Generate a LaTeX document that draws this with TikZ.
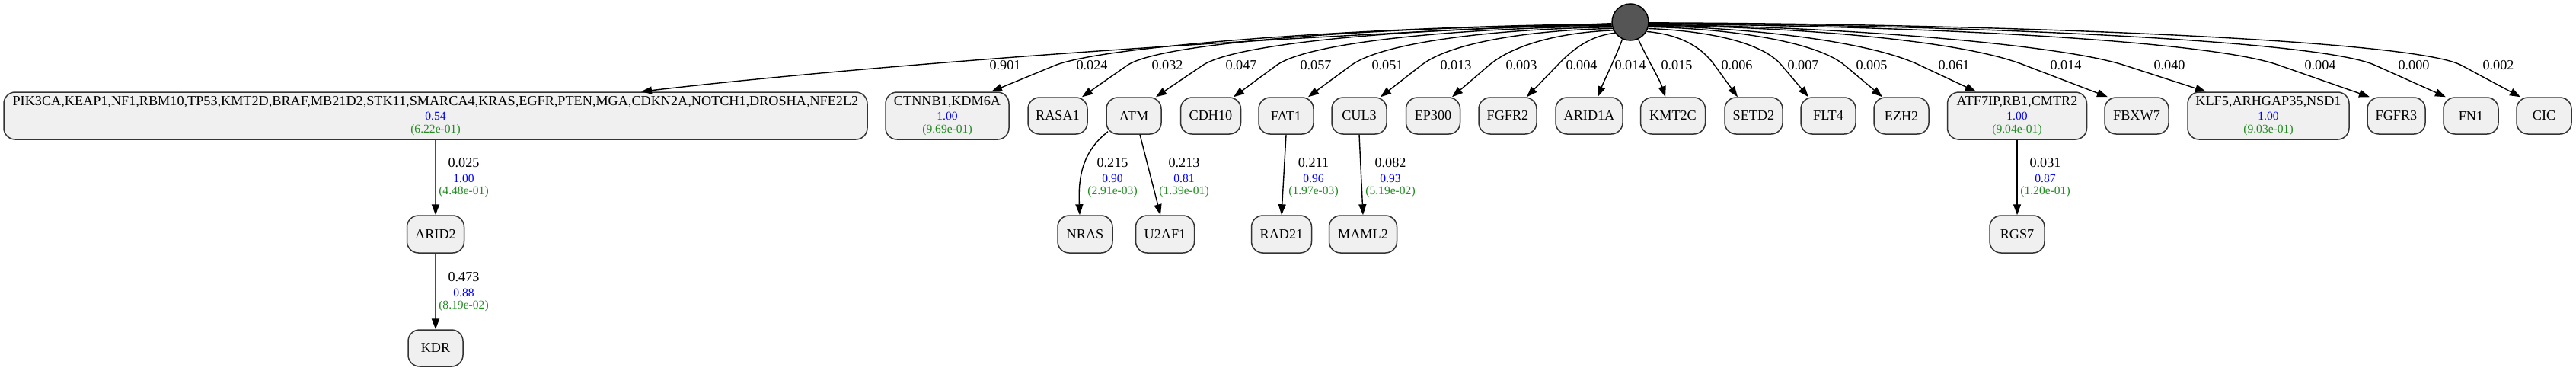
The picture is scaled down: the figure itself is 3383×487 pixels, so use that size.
\documentclass[tikz,border=0pt]{standalone}
\usepackage{fontspec}
\setmainfont{Liberation Serif}
\usetikzlibrary{arrows.meta,calc}
\definecolor{nodefill}{HTML}{F0F0F0}
\definecolor{nodeline}{HTML}{333333}
\definecolor{rootfill}{HTML}{555555}
\definecolor{pgreen}{HTML}{228B22}
\definecolor{pblue}{HTML}{0000FF}
\definecolor{heavy}{HTML}{4D4D4D}
\tikzset{
  gene/.style={draw=nodeline, fill=nodefill, line width=1.5pt, rounded corners=15pt,
    minimum height=48pt, inner sep=0pt, font=\fontsize{18.2}{19}\selectfont},
  multi/.style={gene, minimum height=62pt, align=center, font=\fontsize{15.6}{17}\selectfont},
  edge/.style={line width=1.4pt, draw=black, -{Triangle[length=14pt,width=10pt]}},
  heavyedge/.style={line width=2.2pt, draw=heavy, -{Triangle[length=14pt,width=10pt,fill=black,color=black]}},
  elab/.style={font=\fontsize{18.2}{19}\selectfont, inner sep=0pt, text=black},
  elabc/.style={align=center, font=\fontsize{15.6}{16}\selectfont, inner sep=0pt},
}
\newcommand{\blk}[1]{{\fontsize{18.2}{17}\selectfont #1}}
\begin{document}
\begin{tikzpicture}[x=1pt,y=-1pt]
\useasboundingbox (0,0) rectangle (3383,487);
% root
\node[circle, draw=black, fill=rootfill, line width=1.5pt, minimum size=48pt, inner sep=0pt] (root) at (2141,29) {};
% row 1
\node[multi, minimum width=1134pt] (big) at (572,152) {\blk{PIK3CA,KEAP1,NF1,RBM10,TP53,KMT2D,BRAF,MB21D2,STK11,SMARCA4,KRAS,EGFR,PTEN,MGA,CDKN2A,NOTCH1,DROSHA,NFE2L2}\\[2pt]{\color{pblue}0.54}\\{\color{pgreen}(6.22e-01)}};
\node[multi, minimum width=162pt] (ctn) at (1244,152) {\blk{CTNNB1,KDM6A}\\[2pt]{\color{pblue}1.00}\\{\color{pgreen}(9.69e-01)}};
\node[gene, minimum width=78pt] (rasa1) at (1389,152) {RASA1};
\node[gene, minimum width=72pt] (atm) at (1489,152) {ATM};
\node[gene, minimum width=79pt] (cdh10) at (1590,152) {CDH10};
\node[gene, minimum width=72pt] (fat1) at (1689,152) {FAT1};
\node[gene, minimum width=72pt] (cul3) at (1785,152) {CUL3};
\node[gene, minimum width=71pt] (ep300) at (1882,152) {EP300};
\node[gene, minimum width=76pt] (fgfr2) at (1980,152) {FGFR2};
\node[gene, minimum width=88pt] (arid1a) at (2087,152) {ARID1A};
\node[gene, minimum width=85pt] (kmt2c) at (2197,152) {KMT2C};
\node[gene, minimum width=76pt] (setd2) at (2303,152) {SETD2};
\node[gene, minimum width=72pt] (flt4) at (2401,152) {FLT4};
\node[gene, minimum width=72pt] (ezh2) at (2497,152) {EZH2};
\node[multi, minimum width=183pt] (atf) at (2649,152) {\blk{ATF7IP,RB1,CMTR2}\\[2pt]{\color{pblue}1.00}\\{\color{pgreen}(9.04e-01)}};
\node[gene, minimum width=84pt] (fbxw7) at (2806,152) {FBXW7};
\node[multi, minimum width=212pt] (klf5) at (2979,152) {\blk{KLF5,ARHGAP35,NSD1}\\[2pt]{\color{pblue}1.00}\\{\color{pgreen}(9.03e-01)}};
\node[gene, minimum width=76pt] (fgfr3) at (3147,152) {FGFR3};
\node[gene, minimum width=72pt] (fn1) at (3245,152) {FN1};
\node[gene, minimum width=72pt] (cic) at (3341,152) {CIC};
% row 2
\node[gene, minimum width=75pt, minimum height=49pt] (arid2) at (572,307.5) {ARID2};
\node[gene, minimum width=72pt, minimum height=49pt] (nras) at (1425,307.5) {NRAS};
\node[gene, minimum width=77pt, minimum height=49pt] (u2af1) at (1530,307.5) {U2AF1};
\node[gene, minimum width=79pt, minimum height=49pt] (rad21) at (1683,307.5) {RAD21};
\node[gene, minimum width=89pt, minimum height=49pt] (maml2) at (1790,307.5) {MAML2};
\node[gene, minimum width=72pt, minimum height=49pt] (rgs7) at (2649,307.5) {RGS7};
% row 3
\node[gene, minimum width=72pt, minimum height=48pt] (kdr) at (572,457) {KDR};

% edges from root (left side)
\draw[edge] (root.184) .. controls (1600,50) and (1100,90) .. ([xshift=270pt]big.north) node[elab, at={(1320,86)}] (l01) {0.901};
\draw[edge] (root.186) .. controls (1817,34) and (1451,59) .. (1385,86) -- ([xshift=58pt]ctn.north) node[elab, at={(1434,86)}] (l02) {0.024};
\draw[edge] (root.188) .. controls (1852,34) and (1527,53) .. (1480,86) -- ([xshift=32pt]rasa1.north) node[elab, at={(1533,86)}] (l03) {0.032};
\draw[edge] (root.190) .. controls (1897,35) and (1628,53) .. (1579,86) -- ([xshift=29pt]atm.north) node[elab, at={(1630,86)}] (l04) {0.047};
\draw[edge] (root.193) .. controls (1939,36) and (1721,53) .. (1676,86) -- ([xshift=30pt]cdh10.north) node[elab, at={(1728,86)}] (l05) {0.057};
\draw[edge] (root.196) .. controls (1983,37) and (1819,53) .. (1774,86) -- ([xshift=29pt]fat1.north) node[elab, at={(1822,86)}] (l06) {0.051};
\draw[edge] (root.200) .. controls (2024,39) and (1908,53) .. (1866,86) -- ([xshift=28pt]cul3.north) node[elab, at={(1912,86)}] (l07) {0.013};
\draw[edge] (root.206) .. controls (2062,42) and (1993,54) .. (1955,86) -- ([xshift=25pt]ep300.north) node[elab, at={(1998,86)}] (l08) {0.003};
\draw[edge] (root.215) .. controls (2101,46) and (2077,52) .. (2045,86) -- ([xshift=25pt]fgfr2.north) node[elab, at={(2077,86)}] (l09) {0.004};
\draw[edge] (root.245) .. controls (2122,75) and (2107,105) .. ([xshift=11pt]arid1a.north) node[elab, at={(2141,86)}] (l10) {0.014};
% edges from root (right side)
\draw[edge] (root.295) .. controls (2162,75) and (2180,105) .. ([xshift=-10pt]kmt2c.north) node[elab, at={(2202,86)}] (l11) {0.015};
\draw[edge] (root.330) .. controls (2190,44) and (2228,52) .. (2252,86) -- ([xshift=-21pt]setd2.north) node[elab, at={(2281,86)}] (l12) {0.006};
\draw[edge] (root.340) .. controls (2230,40) and (2312,52) .. (2340,86) -- ([xshift=-26pt]flt4.north) node[elab, at={(2368,86)}] (l13) {0.007};
\draw[edge] (root.345) .. controls (2263,37) and (2384,53) .. (2423,86) -- ([xshift=-25pt]ezh2.north) node[elab, at={(2458,86)}] (l14) {0.005};
\draw[edge] (root.348) .. controls (2296,36) and (2456,54) .. (2522,86) -- ([xshift=-54pt]atf.north) node[elab, at={(2566,86)}] (l15) {0.061};
\draw[edge] (root.350) .. controls (2350,35) and (2576,52) .. (2660,86) -- ([xshift=-38pt]fbxw7.north) node[elab, at={(2713,86)}] (l16) {0.014};
\draw[edge] (root.352) .. controls (2408,34) and (2706,58) .. (2791,86) -- ([xshift=-82pt]klf5.north) node[elab, at={(2849,86)}] (l17) {0.040};
\draw[edge] (root.354) .. controls (2496,33) and (2901,52) .. (2994,86) -- ([xshift=-35pt]fgfr3.north) node[elab, at={(3047,86)}] (l18) {0.004};
\draw[edge] (root.356) .. controls (2562,32) and (3048,52) .. (3120,86) -- ([xshift=-33pt]fn1.north) node[elab, at={(3170,86)}] (l19) {0.000};
\draw[edge] (root.358) .. controls (2619,31) and (3173,52) .. (3233,86) -- ([xshift=-31pt]cic.north) node[elab, at={(3281,86)}] (l20) {0.002};

% lower edges
\draw[heavyedge] (big.south) -- (arid2.north) node[elabc, at={(609,233)}] (l21) {\blk{0.025}\\[4pt]{\color{pblue}1.00}\\{\color{pgreen}(4.48e-01)}};
\draw[heavyedge] (arid2.south) -- (kdr.north) node[elabc, at={(609,383)}] (l22) {\blk{0.473}\\[4pt]{\color{pblue}0.88}\\{\color{pgreen}(8.19e-02)}};
\draw[edge] ([xshift=-34pt,yshift=4pt]atm.south) .. controls (1420,200) and (1416,235) .. ([xshift=-7pt]nras.north) node[elabc, at={(1461,233)}] (l23) {\blk{0.215}\\[4pt]{\color{pblue}0.90}\\{\color{pgreen}(2.91e-03)}};
\draw[edge] ([xshift=8pt]atm.south) -- ([xshift=-6pt]u2af1.north) node[elabc, at={(1555,233)}] (l24) {\blk{0.213}\\[4pt]{\color{pblue}0.81}\\{\color{pgreen}(1.39e-01)}};
\draw[edge] (fat1.south) -- (rad21.north) node[elabc, at={(1725,233)}] (l25) {\blk{0.211}\\[4pt]{\color{pblue}0.96}\\{\color{pgreen}(1.97e-03)}};
\draw[edge] (cul3.south) -- (maml2.north) node[elabc, at={(1826,233)}] (l26) {\blk{0.082}\\[4pt]{\color{pblue}0.93}\\{\color{pgreen}(5.19e-02)}};
\draw[edge] (atf.south) -- (rgs7.north) node[elabc, at={(2686,233)}] (l27) {\blk{0.031}\\[4pt]{\color{pblue}0.87}\\{\color{pgreen}(1.20e-01)}};
\end{tikzpicture}
\end{document}
